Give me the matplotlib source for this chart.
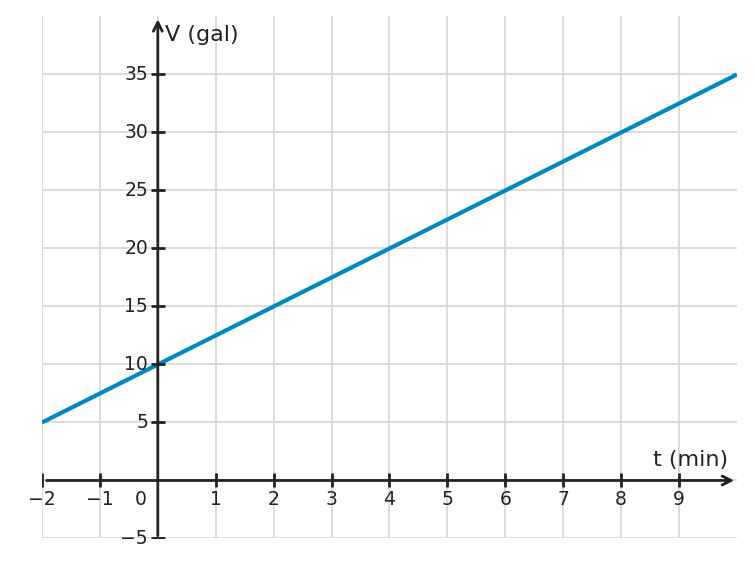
import matplotlib
matplotlib.use("Agg")
import matplotlib.pyplot as plt

# line V = 10 + 2.5 t, drawn over the visible range
t_vals = [-2, 10]
v_vals = [5, 35]

x_ticks = [-2, -1, 1, 2, 3, 4, 5, 6, 7, 8, 9]
y_ticks = [-5, 5, 10, 15, 20, 25, 30, 35]
x_grid = list(range(-2, 10))
y_grid = list(range(-5, 40, 5))

AXIS = "#222222"
GRID = "#d9d9d9"
LINE = "#0088c0"

fig = plt.figure(figsize=(7.55, 5.67), dpi=100)
ax = fig.add_axes([0.0556, 0.0503, 0.9205, 0.9206])
ax.set_xlim(-2, 10)
ax.set_ylim(-5, 40)
ax.axis("off")

for x in x_grid:
    ax.plot([x, x], [-5, 40], color=GRID, lw=1.3, zorder=1, solid_capstyle="butt")
for y in y_grid:
    ax.plot([-2, 10], [y, y], color=GRID, lw=1.3, zorder=1, solid_capstyle="butt")

ax.plot(t_vals, v_vals, color=LINE, lw=3, zorder=3, solid_capstyle="butt")

# axes with arrows
ax.annotate("", xy=(10, 0), xytext=(-1.97, 0),
            arrowprops={"arrowstyle": "->", "color": AXIS, "lw": 2, "mutation_scale": 16})
ax.annotate("", xy=(0, 40), xytext=(0, -5),
            arrowprops={"arrowstyle": "->", "color": AXIS, "lw": 2, "mutation_scale": 16})

ax.plot(x_ticks, [0] * len(x_ticks), ls="none", marker="|", ms=10, mew=2, color=AXIS, zorder=4)
ax.plot([0] * len(y_ticks), y_ticks, ls="none", marker="_", ms=10, mew=2, color=AXIS, zorder=4)

fs = 13.5
for x in x_ticks:
    ax.text(x, -0.8, f"{x}".replace("-", "\u2212"), ha="center", va="top", fontsize=fs, color=AXIS)
ax.text(-0.3, -0.8, "0", ha="center", va="top", fontsize=fs, color=AXIS)
for y in y_ticks:
    ax.text(-0.17, y, f"{y}".replace("-", "\u2212"), ha="right", va="center", fontsize=fs, color=AXIS)

ax.text(0.12, 38.4, "V (gal)", ha="left", va="center", fontsize=16, color=AXIS)
ax.text(9.85, 0.9, "t (min)", ha="right", va="bottom", fontsize=16, color=AXIS)

fig.savefig("out.png", dpi=100, facecolor="white")
